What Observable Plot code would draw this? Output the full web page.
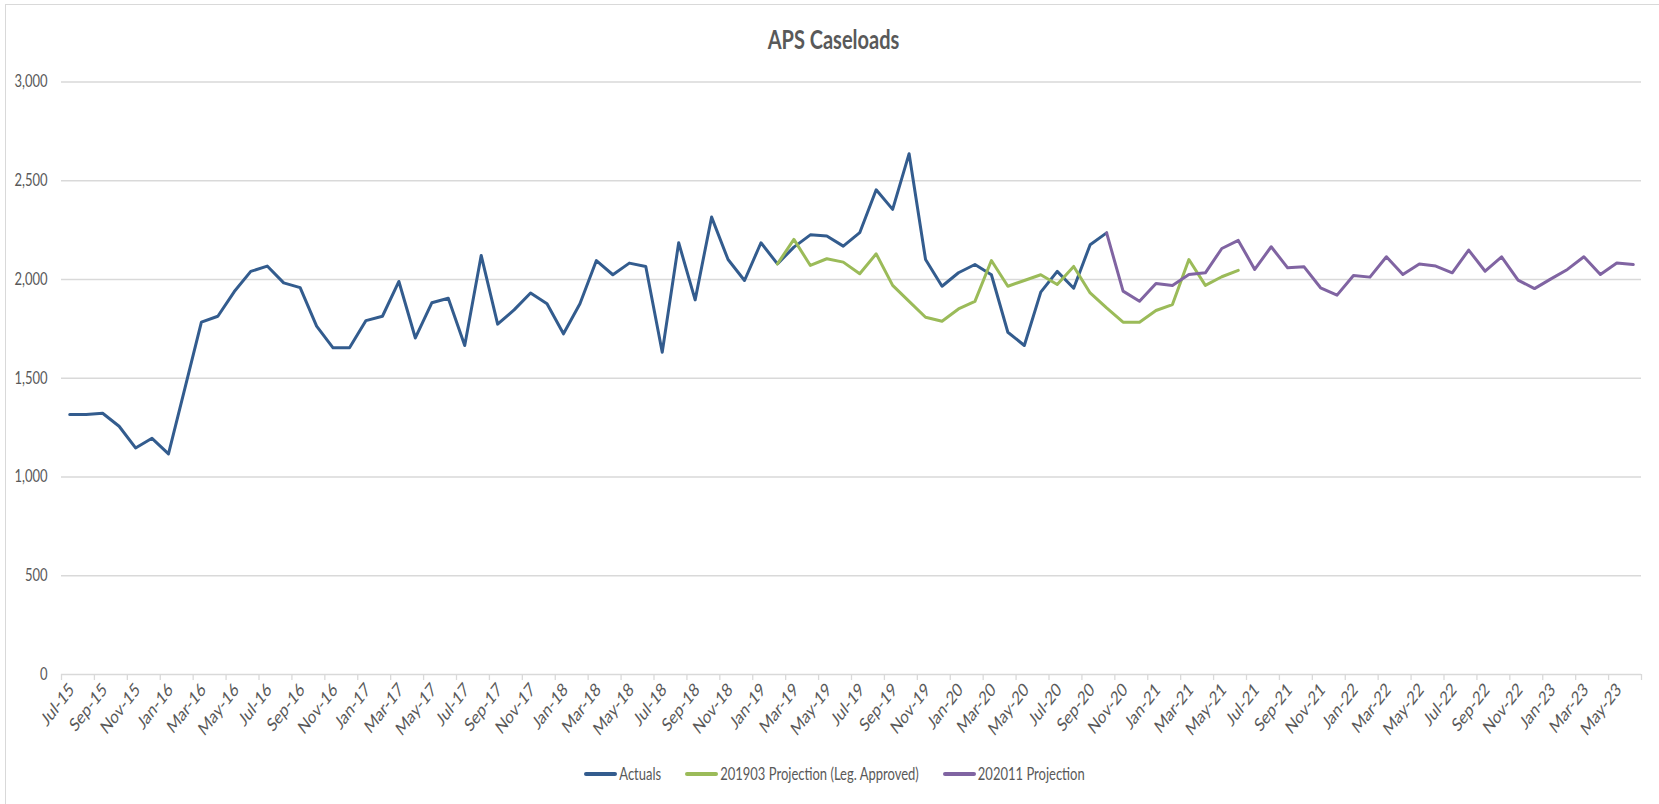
<!DOCTYPE html>
<html>
<head>
<meta charset="utf-8">
<script src="https://cdn.jsdelivr.net/npm/d3@7"></script>
<script src="https://cdn.jsdelivr.net/npm/@observablehq/plot@0.6"></script>
<style>
  html, body { margin: 0; padding: 0; background: #fff; }
  body { width: 1659px; height: 804px; position: relative; overflow: hidden; font-family: Lato, "Open Sans", sans-serif; }
  #frame { position: absolute; left: 5px; top: 4px; width: 1670px; height: 820px; border-left: 1.5px solid #d9d9d9; border-top: 1.5px solid #d9d9d9; box-sizing: border-box; }
  #title { position: absolute; left: 0; top: 27px; width: 1659px; text-align: center; font-size: 20px; font-weight: bold; color: #595959; padding-left: 8px; box-sizing: border-box; transform: scaleY(1.3); }
  #chart { position: absolute; left: 0; top: 60px; }
  #legend { position: absolute; left: 0; top: 766px; width: 1659px; display: flex; justify-content: center; padding-left: 10px; box-sizing: border-box; font-size: 13px; color: #595959; }
  .item { display: flex; align-items: center; margin: 0 12px; }
  .item span { display: inline-block; transform: scaleY(1.3); }
  .sw { width: 33px; height: 4px; border-radius: 2px; margin-right: 2px; }
</style>
</head>
<body>
<div id="frame"></div>
<div id="title">APS Caseloads</div>
<div id="chart"></div>
<div id="legend"></div>
<script>
// Categories (monthly, Jul-15 .. Jun-23)
const months = [
  "Jul-15","Aug-15","Sep-15","Oct-15","Nov-15","Dec-15",
  "Jan-16","Feb-16","Mar-16","Apr-16","May-16","Jun-16","Jul-16","Aug-16","Sep-16","Oct-16","Nov-16","Dec-16",
  "Jan-17","Feb-17","Mar-17","Apr-17","May-17","Jun-17","Jul-17","Aug-17","Sep-17","Oct-17","Nov-17","Dec-17",
  "Jan-18","Feb-18","Mar-18","Apr-18","May-18","Jun-18","Jul-18","Aug-18","Sep-18","Oct-18","Nov-18","Dec-18",
  "Jan-19","Feb-19","Mar-19","Apr-19","May-19","Jun-19","Jul-19","Aug-19","Sep-19","Oct-19","Nov-19","Dec-19",
  "Jan-20","Feb-20","Mar-20","Apr-20","May-20","Jun-20","Jul-20","Aug-20","Sep-20","Oct-20","Nov-20","Dec-20",
  "Jan-21","Feb-21","Mar-21","Apr-21","May-21","Jun-21","Jul-21","Aug-21","Sep-21","Oct-21","Nov-21","Dec-21",
  "Jan-22","Feb-22","Mar-22","Apr-22","May-22","Jun-22","Jul-22","Aug-22","Sep-22","Oct-22","Nov-22","Dec-22",
  "Jan-23","Feb-23","Mar-23","Apr-23","May-23","Jun-23"
];

// Series values
const actualsStart = "Jul-15";
const actuals = [
  1316, 1316, 1323, 1257, 1147, 1196, 1117, 1450, 1784, 1814, 1939, 2041,
  2068, 1983, 1959, 1764, 1654, 1654, 1792, 1814, 1990, 1704, 1882, 1905,
  1666, 2122, 1774, 1846, 1932, 1877, 1725, 1877, 2096, 2024, 2083, 2066,
  1632, 2186, 1897, 2316, 2101, 1995, 2186, 2079, 2164, 2226, 2220, 2169,
  2237, 2454, 2355, 2637, 2101, 1966, 2034, 2076, 2024, 1733, 1666, 1936,
  2041, 1956, 2176, 2236
];

const proj1903Start = "Feb-19";
const proj1903 = [
  2079, 2203, 2071, 2105, 2088, 2029, 2130, 1970, 1889, 1809, 1789, 1851,
  1889, 2096, 1966, 1995, 2024, 1975, 2066, 1932, 1856, 1784, 1784, 1843,
  1873, 2101, 1970, 2014, 2046
];

const proj2011Start = "Oct-20";
const proj2011 = [
  2236, 1941, 1890, 1980, 1970, 2025, 2034, 2157, 2198, 2051, 2166, 2059,
  2064, 1958, 1921, 2020, 2012, 2115, 2025, 2079, 2068, 2034, 2149, 2042,
  2115, 1997, 1954, 2003, 2051, 2115, 2025, 2084, 2076
];

// Tick labels
const yTicks = [0, 500, 1000, 1500, 2000, 2500, 3000];
const xLabels = months.filter((m, i) => i % 2 === 0);

const seriesNames = ["Actuals", "201903 Projection (Leg. Approved)", "202011 Projection"];
const seriesColors = ["#335c8e", "#9bbb59", "#8064a2"];

function toRows(values, start, name) {
  const s = months.indexOf(start);
  return values.map((v, i) => ({month: months[s + i], value: v, series: name}));
}
const rows = [
  ...toRows(actuals, actualsStart, seriesNames[0]),
  ...toRows(proj1903, proj1903Start, seriesNames[1]),
  ...toRows(proj2011, proj2011Start, seriesNames[2])
];

const W = 1659, H = 680, ML = 61, MR = 18, MT = 21.5, MB = 66;
const step = (W - ML - MR) / months.length;
const gray = "#595959";

const chart = Plot.plot({
  width: W,
  height: H,
  marginLeft: ML,
  marginRight: MR,
  marginTop: MT,
  marginBottom: MB,
  style: {fontFamily: "Lato, 'Open Sans', sans-serif", fontSize: "13px", color: gray, background: "transparent", overflow: "visible"},
  x: {type: "band", domain: months, padding: 0, label: null},
  y: {domain: [0, 3000], label: null},
  color: {domain: seriesNames, range: seriesColors},
  marks: [
    Plot.gridY(yTicks, {stroke: "#d9d9d9", strokeOpacity: 1, strokeWidth: 1.3}),
    Plot.axisY(yTicks, {tickSize: 0, tickPadding: 14, tickFormat: d3.format(","), fontSize: 13, color: gray, label: null}),
    // tick marks on category boundaries
    Plot.axisX(xLabels, {tickSize: 6, dx: -step / 2, fill: "none", stroke: "#d9d9d9", strokeWidth: 1.3, label: null}),
    Plot.axisX([months[months.length - 1]], {tickSize: 6, dx: step / 2, fill: "none", stroke: "#d9d9d9", strokeWidth: 1.3, label: null}),
    // rotated labels
    Plot.axisX(xLabels, {tickSize: 0, tickPadding: 12, tickRotate: -45, fontSize: 14.5, fill: gray, dx: 2, label: null}),
    Plot.line(rows, {x: "month", y: "value", z: "series", stroke: "series", strokeWidth: 3, strokeLinejoin: "round", strokeLinecap: "round"})
  ]
});

// vertical stretch of the tick labels, as in the reference rendering
d3.select(chart)
  .selectAll('g[aria-label="x-axis tick label"] text, g[aria-label="y-axis tick label"] text')
  .attr("transform", function () {
    const t = this.getAttribute("transform") || "";
    return t.replace(/(translate\([^)]*\))/, "$1 scale(1,1.3)");
  });

document.getElementById("chart").appendChild(chart);

const legend = document.getElementById("legend");
seriesNames.forEach((n, i) => {
  const it = document.createElement("div");
  it.className = "item";
  const sw = document.createElement("div");
  sw.className = "sw";
  sw.style.background = seriesColors[i];
  const t = document.createElement("span");
  t.textContent = n;
  it.appendChild(sw);
  it.appendChild(t);
  legend.appendChild(it);
});
</script>
</body>
</html>
